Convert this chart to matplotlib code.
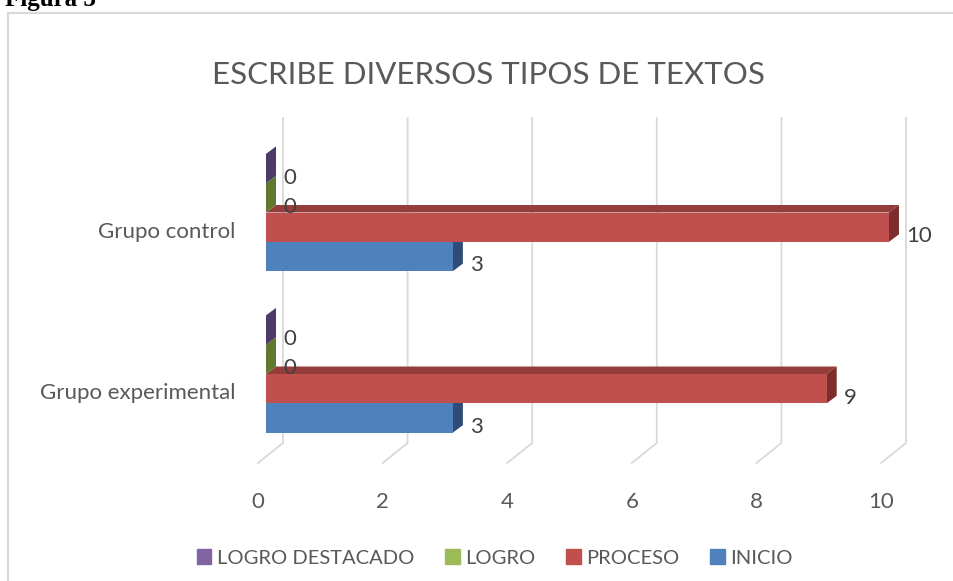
import matplotlib
matplotlib.use("Agg")
import matplotlib.pyplot as plt
from matplotlib.patches import Polygon, Rectangle, Patch
from matplotlib.transforms import ScaledTranslation

# chart data
categories = ["Grupo experimental", "Grupo control"]
series = ["INICIO", "PROCESO", "LOGRO", "LOGRO DESTACADO"]
inicio = [3, 3]
proceso = [9, 10]
logro = [0, 0]
logro_destacado = [0, 0]
values = [inicio, proceso, logro, logro_destacado]
x_ticks = [0, 2, 4, 6, 8, 10]

front_colors = ["#4f81bd", "#c0504d", "#9bbb59", "#8064a2"]
side_colors = ["#2e4c77", "#7d2d2b", "#5f7a2e", "#4d3a6b"]
top_colors = ["#3d6699", "#953d3b", "#6f8c38", "#5d4880"]
text_gray = "#595959"
grid_gray = "#d9d9d9"

plt.rcParams['font.family'] = ['Lato', 'DejaVu Sans']

W, H = 954, 581
fig = plt.figure(figsize=(W / 100, H / 100), dpi=100)
ax = fig.add_axes([266 / W, (H - 463) / H, 623 / W, 345 / H])
ax.set_xlim(0, 10)
ylo, yhi = (374 - 463) / 161.5, (374 - 118) / 161.5
ax.set_ylim(ylo, yhi)
for s in ax.spines.values():
    s.set_visible(False)
ax.patch.set_alpha(0)

# pixels per data unit
sx = ax.bbox.width / 10
sy = ax.bbox.height / (yhi - ylo)

# back wall gridlines + floor diagonals
for v in x_ticks:
    ax.plot([v - 8 / sx, v + 17 / sx, v + 17 / sx], [ylo, ylo + 20 / sy, yhi],
            color=grid_gray, lw=1.3, clip_on=False, zorder=0)

# 3d-ish bars
h = 29.3 / sy
dx, dy = 10 / sx, 7.5 / sy
for i, vals in enumerate(values):
    for j, v in enumerate(vals):
        yc = j + (i - 1.5) * h
        y0, y1 = yc - h / 2, yc + h / 2
        z = 2 + i * 3
        top = Polygon([(0, y1), (v, y1), (v + dx, y1 + dy), (dx, y1 + dy)],
                      closed=True, fc=top_colors[i], ec="none", zorder=z, clip_on=False)
        side = Polygon([(v, y0), (v, y1), (v + dx, y1 + dy), (v + dx, y0 + dy)],
                       closed=True, fc=side_colors[i], ec="none", zorder=z + 1, clip_on=False)
        ax.add_patch(top)
        ax.add_patch(side)
        ax.barh(yc, v, height=h, color=front_colors[i], zorder=z + 2, clip_on=False)
        ax.text(v + 17 / sx, yc - 9 / sy, str(v), ha="left", va="center",
                fontsize=16, color="#404040", zorder=20)

ax.set_xticks(x_ticks)
ax.set_xticklabels([str(t) for t in x_ticks])
ax.tick_params(axis="x", length=0, pad=21, labelsize=16, labelcolor=text_gray)
for lab in ax.get_xticklabels():
    lab.set_transform(lab.get_transform() + ScaledTranslation(-8 / 100, 0, fig.dpi_scale_trans))

ax.set_yticks([0, 1])
ax.set_yticklabels(categories)
ax.tick_params(axis="y", length=0, pad=22, labelsize=16, labelcolor=text_gray)
for lab in ax.get_yticklabels():
    lab.set_transform(lab.get_transform() + ScaledTranslation(0, -17 / 100, fig.dpi_scale_trans))

fig.text(488 / W, 1 - 75 / H, "ESCRIBE DIVERSOS TIPOS DE TEXTOS", ha="center", va="center",
         fontsize=22.5, color=text_gray)

handles = [Patch(color=front_colors[k], label=series[k]) for k in [3, 2, 1, 0]]
fig.legend(handles=handles, loc="center", bbox_to_anchor=(495 / W, 1 - 558 / H), ncol=4,
           frameon=False, fontsize=14.5, handlelength=0.72, handleheight=0.72,
           handletextpad=0.3, columnspacing=1.5, labelcolor=text_gray)

# chart border and caption above
fig.add_artist(Rectangle((8 / W, -0.1), 2, 1 - 13 / H + 0.1, transform=fig.transFigure,
                         fill=False, ec=grid_gray, lw=1.5))
fig.text(5 / W, 1 - 6 / H, "Figura 3", family="Liberation Serif", weight="bold",
         fontsize=18, va="baseline", ha="left")

fig.savefig("out.png", dpi=100)
